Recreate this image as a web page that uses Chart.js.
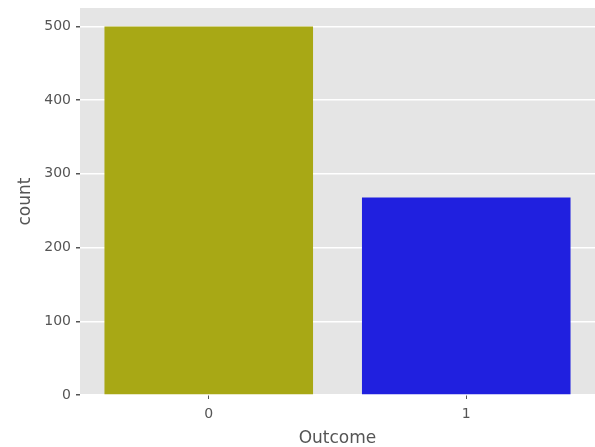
<!DOCTYPE html>
<html>
<head>
<meta charset="utf-8">
<script src="https://cdn.jsdelivr.net/npm/chart.js@4"></script>
<style>
  html, body { margin: 0; padding: 0; background: #fff; }
  #wrap { width: 595px; height: 447px; }
</style>
</head>
<body>
<div id="wrap"><canvas id="chart" width="595" height="447"></canvas></div>
<script>
// Chart data
const categories = ["0", "1"];
const counts = [500, 268];
const barColors = ["#a8a815", "#2020df"];
const yTicks = [0, 100, 200, 300, 400, 500];

// Gray panel behind the plot
const panelBg = {
  id: "panelBg",
  beforeDraw: (chart) => {
    const { ctx, chartArea: a } = chart;
    ctx.save();
    ctx.fillStyle = "#e5e5e5";
    ctx.fillRect(a.left, a.top, a.right - a.left, a.bottom - a.top);
    ctx.restore();
  },
};

new Chart(document.getElementById("chart"), {
  type: "bar",
  data: {
    labels: categories,
    datasets: [{
      data: counts,
      backgroundColor: barColors,
      borderWidth: 0,
      categoryPercentage: 1,
      barPercentage: 0.81,
    }],
  },
  options: {
    responsive: false,
    animation: false,
    layout: { padding: { top: 8, right: 0, left: 0, bottom: 0 } },
    plugins: { legend: { display: false }, tooltip: { enabled: false } },
    scales: {
      x: {
        grid: { drawOnChartArea: false, tickColor: "#555", tickLength: 4, offset: false },
        border: { display: false },
        ticks: { color: "#555", font: { family: "DejaVu Sans", size: 14 }, padding: 7 },
        title: { display: true, text: "Outcome", color: "#555", font: { family: "DejaVu Sans", size: 17 }, padding: { top: 5, bottom: -2 } },
        afterFit: (s) => { s.height = 52; s.paddingLeft = 0; s.paddingRight = 0; },
      },
      y: {
        min: 0,
        max: 525,
        afterBuildTicks: (s) => { s.ticks = yTicks.map((v) => ({ value: v })); },
        grid: { color: "#ffffff", lineWidth: 1.5, tickColor: "#555", tickLength: 4 },
        border: { display: false },
        ticks: { color: "#555", font: { family: "DejaVu Sans", size: 14 }, padding: 5 },
        title: { display: true, text: "count", color: "#555", font: { family: "DejaVu Sans", size: 17 }, padding: { top: 15, bottom: 0 } },
        afterFit: (s) => { s.width = 80; s.paddingTop = 0; s.paddingBottom = 0; },
      },
    },
  },
  plugins: [panelBg],
});
</script>
</body>
</html>
